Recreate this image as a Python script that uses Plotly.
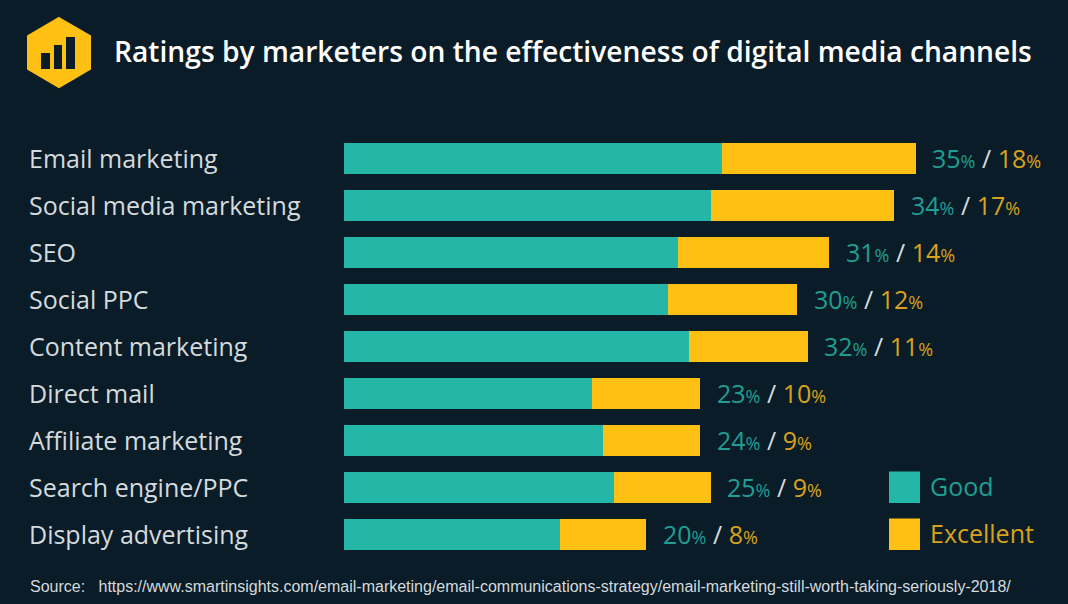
import plotly.graph_objects as go

channels = [
    "Email marketing",
    "Social media marketing",
    "SEO",
    "Social PPC",
    "Content marketing",
    "Direct mail",
    "Affiliate marketing",
    "Search engine/PPC",
    "Display advertising",
]
good = [35, 34, 31, 30, 32, 23, 24, 25, 20]
excellent = [18, 17, 14, 12, 11, 10, 9, 9, 8]

TITLE = "Ratings by marketers on the effectiveness of digital media channels"
SOURCE = "Source:   https://www.smartinsights.com/email-marketing/email-communications-strategy/email-marketing-still-worth-taking-seriously-2018/"

W, H = 1068, 604
BG = "#0a1c27"
TEAL = "#24b6a6"
YELLOW = "#ffc014"
TEAL_TEXT = "#1f9f93"
YELLOW_TEXT = "#d9a21c"
LABEL = "#d4dadd"
FONT = "Open Sans"

PX_PER_UNIT = 10.78
BAR_LEFT = 344.3
ROW_STEP = 47
FIRST_ROW = 158.6


def px_x(x):
    return x / W


def px_y(y):
    return 1 - y / H


def value_label(g, e):
    return (
        f"<span style='color:{TEAL_TEXT}'>{g}<span style='font-size:18px'>%</span></span>"
        f"<span style='color:{LABEL}'> / </span>"
        f"<span style='color:{YELLOW_TEXT}'>{e}<span style='font-size:18px'>%</span></span>"
    )


def add_logo(fig):
    fig.add_shape(
        type="path",
        xref="paper",
        yref="paper",
        path=(
            f"M {px_x(59)} {px_y(18)} L {px_x(90)} {px_y(36)} L {px_x(90)} {px_y(69)} "
            f"L {px_x(59)} {px_y(87)} L {px_x(28)} {px_y(69)} L {px_x(28)} {px_y(36)} Z"
        ),
        fillcolor=YELLOW,
        line={"color": YELLOW, "width": 2},
    )
    for x0, x1, top in [(41, 50, 53), (54, 62, 45), (66, 75, 37)]:
        fig.add_shape(
            type="rect",
            xref="paper",
            yref="paper",
            x0=px_x(x0),
            x1=px_x(x1),
            y0=px_y(69),
            y1=px_y(top),
            fillcolor=BG,
            line_width=0,
        )


def add_key(fig):
    for name, color, text_color, cy in [
        ("Good", TEAL, TEAL_TEXT, 487),
        ("Excellent", YELLOW, YELLOW_TEXT, 534),
    ]:
        fig.add_shape(
            type="rect",
            xref="paper",
            yref="paper",
            x0=px_x(889),
            x1=px_x(920),
            y0=px_y(cy + 16),
            y1=px_y(cy - 15.5),
            fillcolor=color,
            line_width=0,
        )
        fig.add_annotation(
            xref="paper",
            yref="paper",
            x=px_x(928),
            y=px_y(cy - 1),
            text=name,
            showarrow=False,
            xanchor="left",
            yanchor="middle",
            font={"family": FONT, "size": 25, "color": text_color},
        )


def build_figure():
    fig = go.Figure()
    fig.add_bar(
        y=channels, x=good, orientation="h", name="Good",
        marker={"color": TEAL, "line": {"width": 0}},
    )
    fig.add_bar(
        y=channels, x=excellent, orientation="h", name="Excellent",
        marker={"color": YELLOW, "line": {"width": 0}},
    )

    for name, g, e in zip(channels, good, excellent):
        fig.add_annotation(
            xref="paper", yref="y", x=px_x(27), y=name, text=name,
            showarrow=False, xanchor="left", yanchor="middle", yshift=1,
            font={"family": FONT, "size": 25, "color": LABEL},
        )
        fig.add_annotation(
            xref="x", yref="y", x=g + e, y=name, text=value_label(g, e),
            showarrow=False, xanchor="left", yanchor="middle", xshift=14.5, yshift=1,
            font={"family": FONT, "size": 25, "color": LABEL},
        )

    fig.add_annotation(
        xref="paper", yref="paper", x=px_x(112), y=px_y(51), text=TITLE,
        showarrow=False, xanchor="left", yanchor="middle",
        font={"family": FONT, "size": 28.2, "color": "#ffffff", "weight": 600},
    )
    fig.add_annotation(
        xref="paper", yref="paper", x=px_x(28), y=px_y(586), text=SOURCE,
        showarrow=False, xanchor="left", yanchor="middle",
        font={"family": "Liberation Sans", "size": 16, "color": LABEL},
    )

    add_logo(fig)
    add_key(fig)

    # rows sit on category positions, so the range is worked out from the pixel grid
    y_top = -FIRST_ROW / ROW_STEP
    y_bottom = (H - FIRST_ROW) / ROW_STEP
    fig.update_layout(
        width=W,
        height=H,
        barmode="stack",
        bargap=1 - 31.2 / ROW_STEP,
        showlegend=False,
        paper_bgcolor=BG,
        plot_bgcolor=BG,
        margin={"l": 0, "r": 0, "t": 0, "b": 0},
        xaxis={
            "range": [-BAR_LEFT / PX_PER_UNIT, (W - BAR_LEFT) / PX_PER_UNIT],
            "visible": False,
            "fixedrange": True,
        },
        yaxis={
            "type": "category",
            "categoryorder": "array",
            "categoryarray": channels,
            "range": [y_bottom, y_top],
            "visible": False,
            "fixedrange": True,
        },
    )
    return fig


fig = build_figure()
fig.write_html(
    "out.html",
    config={"displayModeBar": False},
    post_script="document.body.style.margin='0';",
)
